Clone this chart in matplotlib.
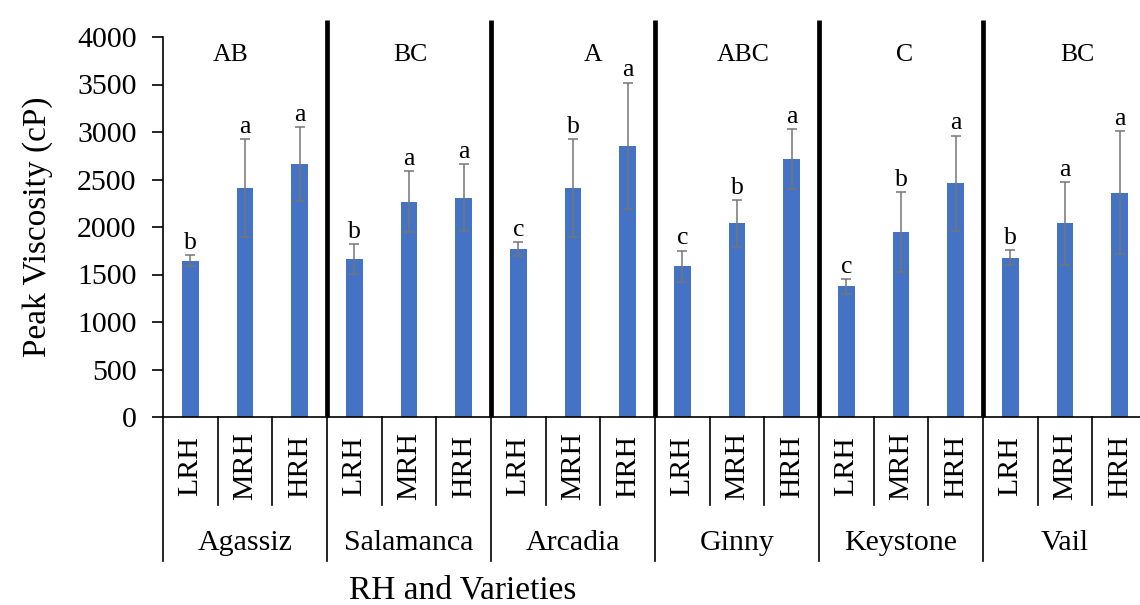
import numpy as np
import matplotlib.pyplot as plt

plt.rcParams['font.family'] = ['Liberation Serif', 'DejaVu Serif']

# peak viscosity by variety and relative humidity level
varieties = ['Agassiz', 'Salamanca', 'Arcadia', 'Ginny', 'Keystone', 'Vail']
rh_levels = ['LRH', 'MRH', 'HRH']
peak_mean = [1645, 2407, 2663,
             1663, 2267, 2309,
             1765, 2407, 2856,
             1586, 2039, 2712,
             1375, 1951, 2463,
             1677, 2039, 2361]
peak_err = [60, 515, 387,
            157, 323, 350,
            75, 515, 665,
            165, 245, 315,
            80, 420, 500,
            78, 435, 645]
rh_letters = ['b', 'a', 'a',
              'b', 'a', 'a',
              'c', 'b', 'a',
              'c', 'b', 'a',
              'c', 'b', 'a',
              'b', 'a', 'a']
variety_letters = ['AB', 'BC', 'A', 'ABC', 'C', 'BC']

n_rh = len(rh_levels)
n_bars = len(peak_mean)
x = np.arange(n_bars)

fig = plt.figure(figsize=(11.4, 6.05), dpi=100)
ax = fig.add_axes([163 / 1140, 188 / 605, 984 / 1140, 380 / 605])

ax.bar(x, peak_mean, width=0.31, color='#4472C4', zorder=2)
ax.errorbar(x, peak_mean, yerr=peak_err, fmt='none', ecolor='#757575',
            elinewidth=1.1, capsize=3.5, capthick=1.1, zorder=3)

# significance letters above each bar
for xi, m, e, s in zip(x, peak_mean, peak_err, rh_letters):
    ax.text(xi, m + e + 65, s, ha='center', va='baseline', fontsize=18.5)

# letters for each variety, nudged slightly within the panel
label_shift = [-0.26, 0.02, 0.37, 0.11, 0.07, 0.22]
for g, s in enumerate(variety_letters):
    ax.text(g * n_rh + 1 + label_shift[g], 3750, s, ha='center',
            va='baseline', fontsize=18.5)

ax.set_xlim(-0.5, n_bars - 0.5)
ax.set_ylim(0, 4000)
ax.set_yticks(np.arange(0, 4001, 500))
ax.tick_params(axis='y', labelsize=21.5, length=8, width=1.2,
               direction='out', pad=11)
ax.set_xticks([])
ax.spines['top'].set_visible(False)
ax.spines['right'].set_visible(False)
ax.spines['left'].set_linewidth(1.2)
ax.spines['bottom'].set_linewidth(1.2)

ax.set_ylabel('Peak Viscosity (cP)', fontsize=24)
ax.yaxis.set_label_coords(-0.112, 0.5)

# thick dividers between varieties
for g in range(1, len(varieties)):
    xb = g * n_rh - 0.5
    ax.plot([xb, xb], [0, 4180], color='black', lw=3.4, clip_on=False,
            solid_capstyle='butt', zorder=4)

# two-level category axis below the plot
for i in range(n_bars + 1):
    xb = i - 0.5
    bottom = -1516 if i % n_rh == 0 else -926
    ax.plot([xb, xb], [0, bottom], color='black', lw=1.2, clip_on=False)

for i, xi in enumerate(x):
    ax.text(xi, -516, rh_levels[i % n_rh], rotation=90, ha='center',
            va='center', fontsize=21.5, clip_on=False)

for g, name in enumerate(varieties):
    ax.text(g * n_rh + 1, -1326, name, ha='center', va='center',
            fontsize=21.5, clip_on=False)

fig.text(463 / 1140, 1 - 590 / 605, 'RH and Varieties', ha='center',
         va='center', fontsize=24)

fig.savefig('out.png', dpi=100)
